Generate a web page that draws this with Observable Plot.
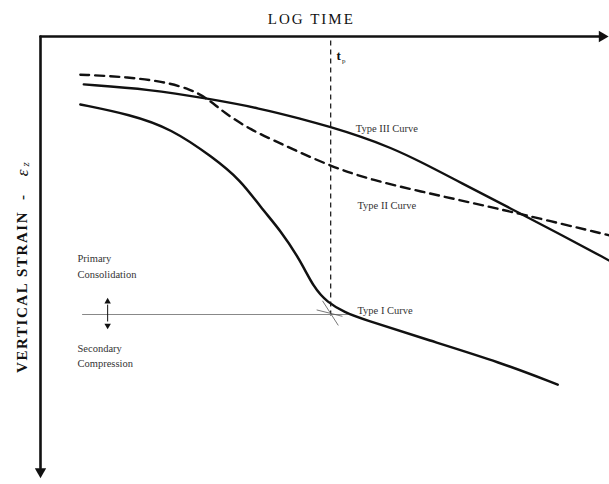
<!DOCTYPE html>
<html><head><meta charset="utf-8">
<script src="https://cdn.jsdelivr.net/npm/d3@7"></script>
<script src="https://cdn.jsdelivr.net/npm/@observablehq/plot@0.6"></script>
<style>body{margin:0;background:#fff}</style>
</head><body><div id="chart"></div>
<script>
// Schematic units: log time 0..100 (left→right), vertical strain 0..100 (top→bottom)
const typeI_time   = [7.0, 15.8, 22.9, 30.4, 35.2, 38.7, 42.2, 45.7, 48.0, 50.4, 53.6, 56.2, 68.5, 80.8, 90.9];
const typeI_strain = [15.3, 17.6, 20.7, 27.3, 32.4, 38.5, 43.7, 50.5, 56.5, 59.9, 62.2, 63.5, 68.5, 73.4, 78.4];

const typeII_time   = [7.0, 14.1, 21.6, 26.4, 29.4, 32.2, 36.9, 42.2, 51.0, 58.5, 66.8, 75.6, 84.2, 100];
const typeII_strain = [8.6, 9.0, 10.1, 11.9, 14.0, 17.1, 21.0, 24.1, 29.3, 32.4, 34.9, 37.4, 39.9, 44.8];

const typeIII_time   = [7.6, 19.3, 29.4, 38.7, 45.7, 51.0, 56.2, 61.5, 66.8, 73.8, 82.6, 91.4, 100];
const typeIII_strain = [10.8, 11.9, 14.0, 16.2, 18.5, 20.4, 22.5, 25.0, 28.2, 32.9, 38.7, 44.6, 50.5];

const tp = 51.0;                 // end of primary consolidation (log time)
const tpStrainEnd = 63.5;
const eopStrain = 62.6;          // strain at end of primary
const eopLine = [7.4, 54.1];     // extent of EOP line (log time)
const tangentA = [[49.6, 59.6], [52.3, 65.0]];
const tangentB = [[48.6, 61.6], [53.0, 63.0]];
const arrowTime = 11.8;
const arrowStrain = [59.7, 65.1];

const curveLabels = ["Type III Curve", "Type II Curve", "Type I Curve"];
const curveLabelTime = [55.4, 55.7, 55.7];
const curveLabelStrain = [20.7, 38.1, 61.7];
const zoneLabels = ["Primary", "Consolidation", "Secondary", "Compression"];
const zoneLabelTime = [6.5, 6.5, 6.5, 6.5];
const zoneLabelStrain = [50.0, 53.6, 70.3, 73.6];

const xTitle = "LOG TIME";
const yTitle = "VERTICAL STRAIN  -";

const toRows = (xs, ys) => xs.map((x, i) => ({x, y: ys[i]}));
const serif = "Liberation Serif, Times New Roman, serif";
const ink = "#111";

const chart = Plot.plot({
  width: 609, height: 484,
  marginLeft: 40, marginRight: 0, marginTop: 36, marginBottom: 4,
  style: {fontFamily: serif, background: "#fff", overflow: "visible"},
  x: {domain: [0, 100], axis: null},
  y: {domain: [0, 100], reverse: true, axis: null},
  marks: [
    // axes with arrowheads
    Plot.line([{x: 0, y: 0}, {x: 98.6, y: 0}], {x: "x", y: "y", stroke: ink, strokeWidth: 2.6}),
    Plot.dot([{x: 98.7, y: 0}], {x: "x", y: "y", symbol: "triangle", r: 4.2, fill: ink, stroke: "none", rotate: 90}),
    Plot.line([{x: 0, y: 0}, {x: 0, y: 97.2}], {x: "x", y: "y", stroke: ink, strokeWidth: 2.6}),
    Plot.dot([{x: 0, y: 98.0}], {x: "x", y: "y", symbol: "triangle", r: 4.2, fill: ink, stroke: "none", rotate: 180}),
    // t_p
    Plot.ruleX([tp], {y1: 1, y2: tpStrainEnd, stroke: ink, strokeWidth: 1.2, strokeDasharray: "5,4"}),
    // end of primary line
    Plot.ruleY([eopStrain], {x1: eopLine[0], x2: eopLine[1], stroke: "#888", strokeWidth: 1.1}),
    Plot.line(tangentA, {stroke: "#555", strokeWidth: 0.8}),
    Plot.line(tangentB, {stroke: "#555", strokeWidth: 0.8}),
    // double arrow
    Plot.ruleX([arrowTime], {y1: arrowStrain[0] + 0.8, y2: arrowStrain[1] - 0.8, stroke: ink, strokeWidth: 1}),
    Plot.dot([{x: arrowTime, y: arrowStrain[0]}], {x: "x", y: "y", symbol: "triangle", r: 2.4, fill: ink, stroke: "none"}),
    Plot.dot([{x: arrowTime, y: arrowStrain[1]}], {x: "x", y: "y", symbol: "triangle", r: 2.4, fill: ink, stroke: "none", rotate: 180}),
    // curves
    Plot.line(toRows(typeII_time, typeII_strain), {x: "x", y: "y", curve: "basis", stroke: ink, strokeWidth: 2.4, strokeDasharray: "9,6"}),
    Plot.line(toRows(typeIII_time, typeIII_strain), {x: "x", y: "y", curve: "basis", stroke: ink, strokeWidth: 2.3}),
    Plot.line(toRows(typeI_time, typeI_strain), {x: "x", y: "y", curve: "basis", stroke: ink, strokeWidth: 2.5}),
    // labels
    Plot.text(curveLabels, {x: (d, i) => curveLabelTime[i], y: (d, i) => curveLabelStrain[i], text: d => d, textAnchor: "start", fontSize: 10.5, fill: "#333", fontFamily: serif}),
    Plot.text(zoneLabels, {x: (d, i) => zoneLabelTime[i], y: (d, i) => zoneLabelStrain[i], text: d => d, textAnchor: "start", fontSize: 10.5, fill: "#333", fontFamily: serif}),
    Plot.text(["t"], {x: tp + 1.0, y: 4.3, text: d => d, textAnchor: "start", fontSize: 13, fill: ink, fontFamily: serif, fontWeight: "bold"}),
    Plot.text(["p"], {x: tp + 2.0, y: 5.4, text: d => d, textAnchor: "start", fontSize: 7, fill: ink, fontFamily: serif}),
    Plot.text([xTitle], {x: 47.6, y: -3.9, text: d => d, fontSize: 15, fill: ink, fontFamily: serif}),
    Plot.text([yTitle], {x: -3.2, y: 75.8, text: d => d, rotate: -90, textAnchor: "start", fontSize: 15, fontWeight: "bold", fill: ink, fontFamily: serif}),
    Plot.text(["ε"], {x: -3.2, y: 31.5, text: d => d, rotate: -90, textAnchor: "start", fontSize: 17, fontStyle: "italic", fill: ink, fontFamily: serif}),
    Plot.text(["z"], {x: -2.6, y: 29.3, text: d => d, rotate: -90, textAnchor: "start", fontSize: 11, fontStyle: "italic", fill: ink, fontFamily: serif})
  ]
});
document.getElementById("chart").append(chart);
// letter spacing for the axis titles
chart.querySelectorAll("text").forEach(t => {
  if (t.textContent === xTitle) t.setAttribute("letter-spacing", "2");
  if (t.textContent === yTitle) t.setAttribute("letter-spacing", "1.6");
});
</script>
</body></html>
